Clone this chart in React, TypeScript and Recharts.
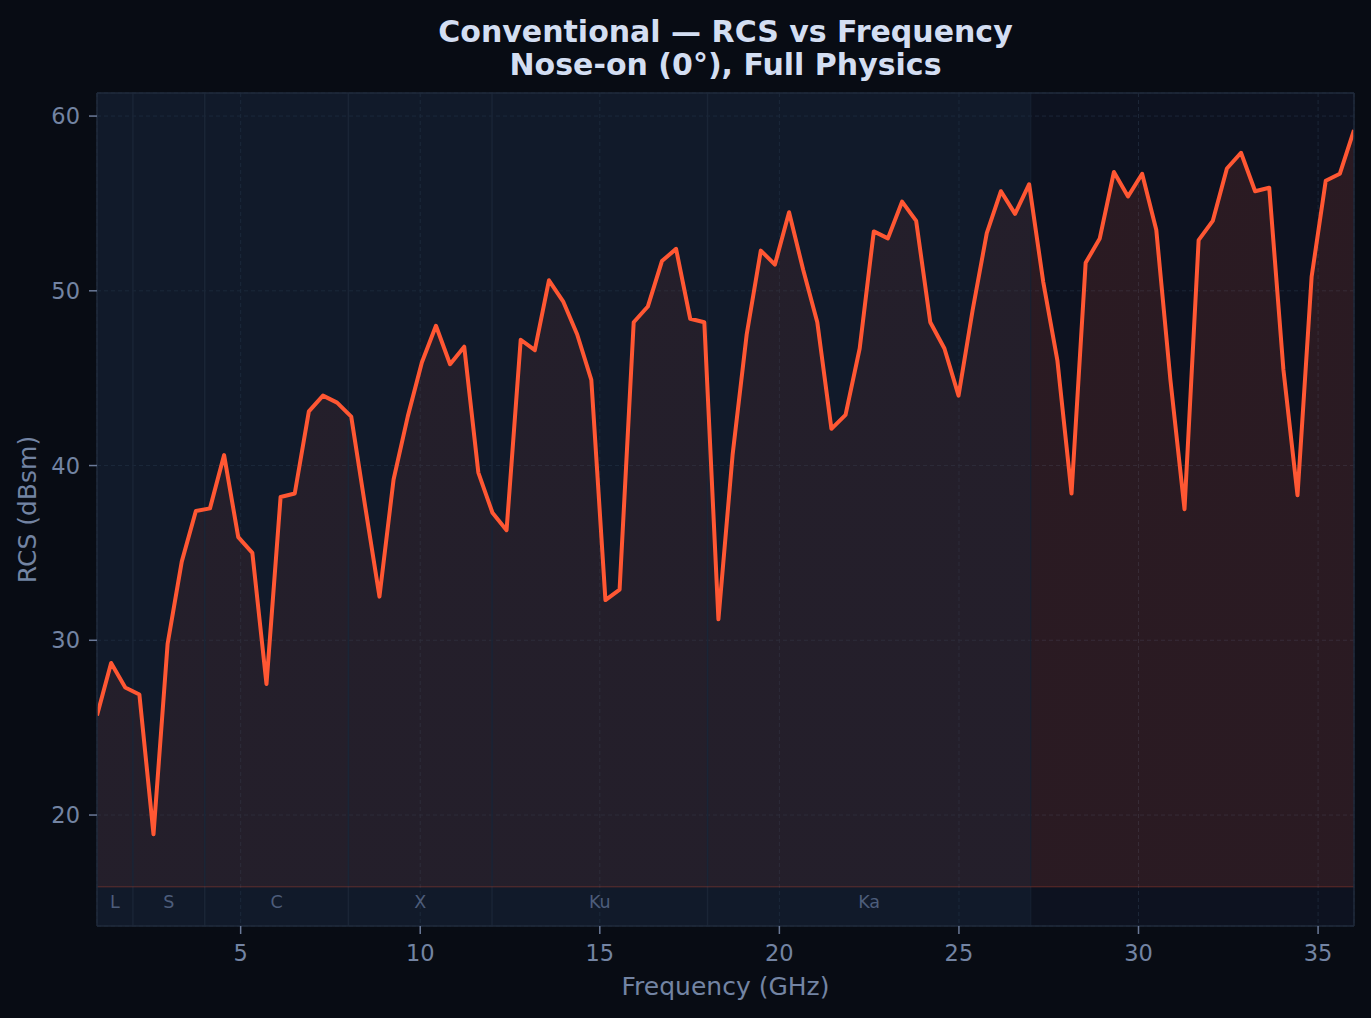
import React from "react";
import {
  ComposedChart,
  Area,
  Line,
  XAxis,
  YAxis,
  CartesianGrid,
  ReferenceArea,
  ReferenceLine,
} from "recharts";

// frequency samples (GHz), 90 points from 1 to 36
const freqGHz = [
  1.0, 1.393, 1.787, 2.18, 2.573, 2.966, 3.36, 3.753, 4.146, 4.539,
  4.933, 5.326, 5.719, 6.112, 6.506, 6.899, 7.292, 7.685, 8.079, 8.472,
  8.865, 9.258, 9.652, 10.045, 10.438, 10.831, 11.225, 11.618, 12.011, 12.404,
  12.798, 13.191, 13.584, 13.978, 14.371, 14.764, 15.157, 15.551, 15.944, 16.337,
  16.73, 17.124, 17.517, 17.91, 18.303, 18.697, 19.09, 19.483, 19.876, 20.27,
  20.663, 21.056, 21.449, 21.843, 22.236, 22.629, 23.022, 23.416, 23.809, 24.202,
  24.596, 24.989, 25.382, 25.775, 26.169, 26.562, 26.955, 27.348, 27.742, 28.135,
  28.528, 28.921, 29.315, 29.708, 30.101, 30.494, 30.888, 31.281, 31.674, 32.067,
  32.461, 32.854, 33.247, 33.64, 34.034, 34.427, 34.82, 35.213, 35.607, 36.0,
];

// RCS (dBsm)
const rcsDbsm = [
  25.7, 28.7, 27.3, 26.9, 18.9, 29.8, 34.5, 37.4, 37.55, 40.6,
  35.9, 35.0, 27.5, 38.2, 38.4, 43.1, 44.0, 43.6, 42.8, 37.6,
  32.5, 39.2, 42.8, 45.9, 48.0, 45.8, 46.8, 39.6, 37.3, 36.3,
  47.2, 46.6, 50.6, 49.4, 47.5, 44.9, 32.3, 32.9, 48.2, 49.1,
  51.7, 52.4, 48.4, 48.2, 31.2, 40.6, 47.5, 52.3, 51.5, 54.5,
  51.2, 48.2, 42.1, 42.9, 46.7, 53.4, 53.0, 55.1, 54.0, 48.2,
  46.7, 44.0, 48.9, 53.3, 55.7, 54.4, 56.1, 50.5, 46.0, 38.4,
  51.6, 53.0, 56.8, 55.4, 56.7, 53.5, 44.9, 37.5, 52.9, 54.0,
  57.0, 57.9, 55.7, 55.9, 45.5, 38.3, 50.8, 56.3, 56.7, 59.2,
];

// radar bands
const bandNames = ["L", "S", "C", "X", "Ku", "Ka"];
const bandStart = [1, 2, 4, 8, 12, 18];
const bandEnd = [2, 4, 8, 12, 18, 27];

const xTicks = [5, 10, 15, 20, 25, 30, 35];
const yTicks = [20, 30, 40, 50, 60];
const xMin = 1;
const xMax = 36;
const yMin = 13.65;
const yMax = 61.32;

const data = freqGHz.map((f, i) => ({ f, rcs: rcsDbsm[i] }));
const fillBase = Math.min(...rcsDbsm) - 3;
const bandsEnd = bandEnd[bandEnd.length - 1];
const splitOffset = (bandsEnd - xMin) / (xMax - xMin);

// colours
const figBg = "#080c14";
const axBg = "#0d1220";
const gridColor = "#1c2637";
const spine = "#1f2a3b";
const lineColor = "#ff5733";
const tickText = "#7384a3";
const bandText = "#4d5d7b";

export default function App() {
  return (
    <div
      style={{
        position: "absolute",
        left: 0,
        top: 0,
        width: 1371,
        height: 1018,
        background: figBg,
        fontFamily: "'DejaVu Sans', sans-serif",
      }}
    >
      <div
        style={{
          position: "absolute",
          left: 97,
          top: 16,
          width: 1257,
          textAlign: "center",
          color: "#d3def2",
          fontWeight: "bold",
          fontSize: 30,
          lineHeight: "32.5px",
        }}
      >
        Conventional — RCS vs Frequency
        <br />
        Nose-on (0°), Full Physics
      </div>

      <ComposedChart
        width={1371}
        height={1018}
        data={data}
        margin={{ top: 93, right: 17, bottom: 0, left: 0 }}
      >
        <defs>
          <linearGradient id="rcsFill" x1="0" y1="0" x2="1" y2="0">
            <stop offset={0} stopColor={lineColor} stopOpacity={0.08} />
            <stop offset={splitOffset} stopColor={lineColor} stopOpacity={0.08} />
            <stop offset={splitOffset} stopColor={lineColor} stopOpacity={0.12} />
            <stop offset={1} stopColor={lineColor} stopOpacity={0.12} />
          </linearGradient>
        </defs>

        <CartesianGrid
          fill={axBg}
          fillOpacity={1}
          stroke={gridColor}
          strokeDasharray="4 3"
          strokeWidth={1}
        />

        {bandNames.map((name, i) => (
          <ReferenceArea
            key={name}
            x1={bandStart[i]}
            x2={bandEnd[i]}
            fill="#1a2d41"
            fillOpacity={0.3}
            stroke="none"
            label={{
              value: name,
              position: "insideBottom",
              offset: 18,
              fill: bandText,
              fontSize: 17.5,
            }}
          />
        ))}

        {bandStart.slice(1).map((b) => (
          <ReferenceLine key={b} x={b} stroke="#1a2536" strokeWidth={1.5} />
        ))}
        <ReferenceLine x={bandsEnd} stroke="#172233" strokeWidth={1} />

        <Area
          type="linear"
          dataKey="rcs"
          baseValue={fillBase}
          fill="url(#rcsFill)"
          fillOpacity={1}
          stroke="none"
          isAnimationActive={false}
        />
        <ReferenceLine
          y={fillBase}
          stroke={lineColor}
          strokeOpacity={0.2}
          strokeWidth={1.5}
        />
        <Line
          type="linear"
          dataKey="rcs"
          stroke={lineColor}
          strokeWidth={4}
          strokeLinejoin="round"
          dot={false}
          isAnimationActive={false}
        />

        <ReferenceLine y={yMax} stroke={spine} strokeWidth={1.5} />
        <ReferenceLine x={xMax} stroke={spine} strokeWidth={1.5} />

        <XAxis
          type="number"
          dataKey="f"
          domain={[xMin, xMax]}
          ticks={xTicks}
          interval={0}
          allowDataOverflow
          height={92}
          tickSize={8}
          tickMargin={11}
          axisLine={{ stroke: spine, strokeWidth: 1.5 }}
          tickLine={{ stroke: "#6b7a99", strokeWidth: 1.5 }}
          tick={{ fill: tickText, fontSize: 22.5 }}
          label={{
            value: "Frequency (GHz)",
            position: "insideBottom",
            offset: 23,
            fill: tickText,
            fontSize: 25,
          }}
        />
        <YAxis
          type="number"
          domain={[yMin, yMax]}
          ticks={yTicks}
          interval={0}
          allowDataOverflow
          width={97}
          tickSize={8}
          tickMargin={9}
          axisLine={{ stroke: spine, strokeWidth: 1.5 }}
          tickLine={{ stroke: "#6b7a99", strokeWidth: 1.5 }}
          tick={{ fill: tickText, fontSize: 22.5 }}
          label={{
            value: "RCS (dBsm)",
            angle: -90,
            position: "insideLeft",
            offset: 27,
            fill: tickText,
            fontSize: 25,
            style: { textAnchor: "middle" },
          }}
        />
      </ComposedChart>
    </div>
  );
}
